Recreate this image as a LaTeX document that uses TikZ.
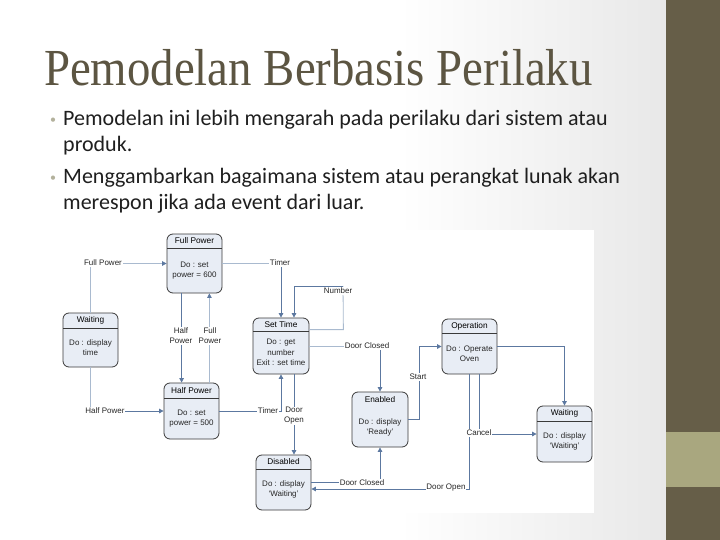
\documentclass[tikz,border=0pt]{standalone}
\usepackage{fontspec}
\setmainfont{Carlito}
\newfontfamily\titlefont[FakeStretch=0.9]{Liberation Serif}
\newfontfamily\dgfont{Liberation Sans}
\usetikzlibrary{arrows.meta,fit,calc}
\definecolor{barDark}{HTML}{665E48}
\definecolor{barLight}{HTML}{A9A77F}
\definecolor{titleCol}{HTML}{5C5542}
\definecolor{bulletCol}{HTML}{B3B19C}
\definecolor{stFill}{HTML}{E8EDF5}
\definecolor{stLine}{HTML}{3A3A3A}
\definecolor{cDark}{HTML}{5C78A0}
\definecolor{cLight}{HTML}{A9BACF}
\tikzset{
  statebox/.style={draw=stLine, fill=stFill, line width=0.8pt, rounded corners=6pt, inner sep=0pt},
  sepline/.style={draw=stLine, line width=0.8pt},
  hdrtext/.style={font=\dgfont\fontsize{8.3}{9}\selectfont, inner sep=0pt, text=black},
  bodytext/.style={font=\dgfont\fontsize{8}{10.5}\selectfont, inner sep=0pt, align=center, text=black!85},
  conn/.style={draw=cDark, line width=0.9pt, -{Triangle[length=4.5pt,width=4.5pt]}},
  connl/.style={draw=cLight, line width=0.8pt},
  connla/.style={draw=cLight, line width=0.8pt, -{Triangle[length=4.5pt,width=4.5pt,color=cDark]}},
  lbl/.style={font=\dgfont\fontsize{8}{10}\selectfont, fill=white, inner sep=0.8pt, align=center, text=black!85},
  bodyline/.style={anchor=base west, inner sep=0pt, font=\fontsize{22}{26}\selectfont, text=black!88},
  bul/.style={anchor=base west, inner sep=0pt, font=\fontsize{12}{14}\selectfont, text=bulletCol}
}
\newcommand\mkstate[9]{%
  \node[statebox, fit={(#2,#3) (#4,#5)}] (#1) {};
  \draw[sepline, #7] (#2,#6) -- (#4,#6);
  \node[hdrtext] at ({(#2+#4)/2},{(#3+#6)/2}) {#8};
  \node[bodytext] at ({(#2+#4)/2},{(#6+#5)/2}) {#9};
}
\begin{document}
\begin{tikzpicture}[x=1pt,y=-1pt]
\useasboundingbox (0,0) rectangle (720,540);
% background
\fill[white] (0,0) rectangle (720,540);
\shade[left color=white, right color=black!9] (400,0) rectangle (666,540);
\fill[barDark] (666,0) rectangle (720,540);
\fill[barLight] (666,432) rectangle (720,487);
% title
\node[anchor=base west, inner sep=0pt, text=titleCol, font=\titlefont\fontsize{52}{56}\selectfont] (title) at (44,86) {Pemodelan Berbasis Perilaku};
% bullets
\node[bul] (d1) at (50,124) {•};
\node[bodyline] (l1) at (63,126) {Pemodelan ini lebih mengarah pada perilaku dari sistem atau};
\node[bodyline] (l2) at (63,152) {produk.};
\node[bul] (d2) at (50,182) {•};
\node[bodyline] (l3) at (63,184) {Menggambarkan bagaimana sistem atau perangkat lunak akan};
\node[bodyline] (l4) at (63,210) {merespon jika ada event dari luar.};
% diagram area
\fill[white] (58,230) rectangle (594,513);
% states
\mkstate{fp}{167}{234}{222}{293}{248}{}{Full Power}{Do : set\\power = 600}
\mkstate{wl}{63}{313}{118}{367}{328}{}{Waiting}{Do : display\\time}
\mkstate{hp}{164}{383}{219}{439}{398}{}{Half Power}{Do : set\\power = 500}
\mkstate{st}{253}{318}{309}{374}{331}{}{Set Time}{Do : get\\number\\Exit : set time}
\mkstate{ds}{256}{455}{311}{510}{469}{}{Disabled}{Do : display\\‘Waiting’}
\mkstate{en}{352}{392}{408}{447}{408}{draw=none}{Enabled}{Do : display\\‘Ready’}
\mkstate{op}{442}{319}{497}{374}{333}{}{Operation}{Do : Operate\\Oven}
\mkstate{wr}{537}{406}{592}{462}{421}{}{Waiting}{Do : display\\‘Waiting’}
% connectors
\draw[connla] (wl.north) |- (fp.west);
\draw[connl] (wl.south) -- (wl.south |- hp.west);
\draw[conn] (wl.south |- hp.west) -- (hp.west);
\draw[conn] ([xshift=15pt]fp.south west) -- ([xshift=15pt]fp.south west |- hp.north);
\draw[connla] ([xshift=-13pt]fp.south east |- hp.north) -- ([xshift=-13pt]fp.south east);
\coordinate (tcorner) at (fp.east -| st.north);
\draw[connl] (fp.east) -- (tcorner);
\draw[conn] (tcorner) -- (st.north);
\coordinate (nr) at ([yshift=-12pt,xshift=34pt]st.north east);
\coordinate (nt) at (343,286);
\draw[connl] ([yshift=-12pt]st.north east) -- (nr) -- (nt);
\draw[conn] (nt) -| ([xshift=13pt]st.north);
\coordinate (dccorner) at (st.east -| en.north);
\draw[connl] (st.east) -- (dccorner);
\draw[conn] (dccorner) -- (en.north);
\draw[conn] (en.east) -- ++(11,0) |- (op.west);
\draw[conn] (op.east) -| (wr.north);
\draw[conn] ([xshift=9.5pt]op.south) |- (wr.west);
\draw[conn] (op.south) |- ([yshift=-6.5pt]ds.east);
\draw[conn] (ds.east) -| (en.south);
\draw[conn] ([xshift=13pt]st.south) -- ([xshift=13pt]st.south |- ds.north);
\draw[conn] (hp.east) -| (st.south);
% labels
\node[lbl] (lb1) at (103,263) {Full Power};
\node[lbl] (lb2) at (105,411) {Half Power};
\node[lbl] (lb3) at (181,336) {Half\\Power};
\node[lbl] (lb4) at (210,336) {Full\\Power};
\node[lbl] (lb5) at (280,263) {Timer};
\node[lbl] (lb6) at (338,291) {Number};
\node[lbl] (lb7) at (367,346) {Door Closed};
\node[lbl] (lb8) at (418,377) {Start};
\node[lbl] (lb9) at (479,433) {Cancel};
\node[lbl] (lb10) at (446,488) {Door Open};
\node[lbl] (lb11) at (362,483) {Door Closed};
\node[lbl] (lb12) at (294,416) {Door\\Open};
\node[lbl] (lb13) at (268,411) {Timer};
\end{tikzpicture}
\end{document}
